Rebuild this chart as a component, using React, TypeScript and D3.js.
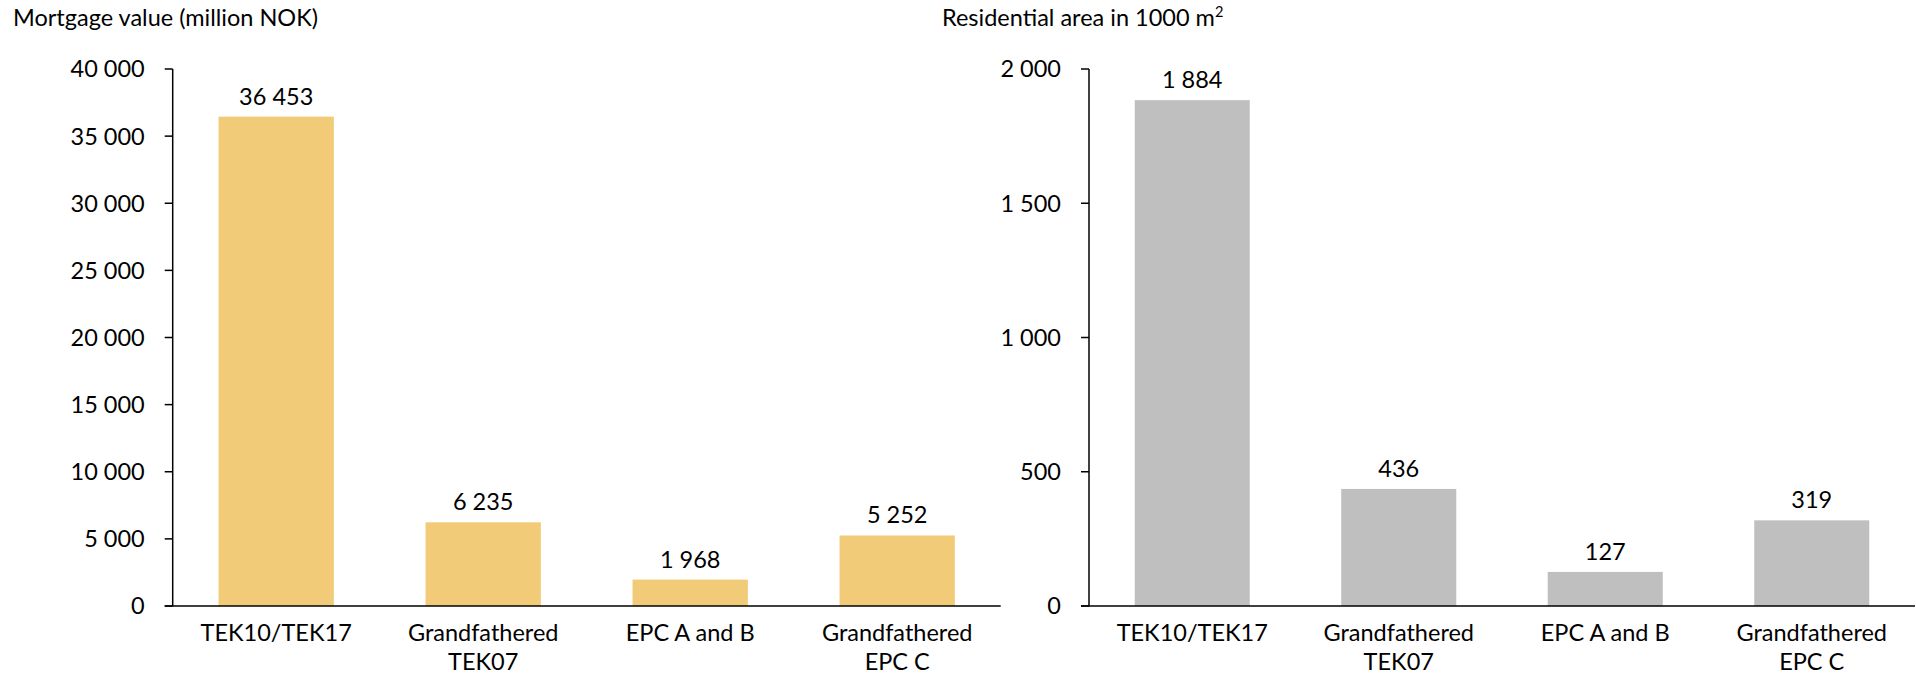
import React from "react";
import * as d3 from "d3";

const categories: string[][] = [
  ["TEK10/TEK17"],
  ["Grandfathered", "TEK07"],
  ["EPC A and B"],
  ["Grandfathered", "EPC C"],
];
const mortgageValues = [36453, 6235, 1968, 5252];
const areaValues = [1884, 436, 127, 319];
const mortgageTicks = [0, 5000, 10000, 15000, 20000, 25000, 30000, 35000, 40000];
const areaTicks = [0, 500, 1000, 1500, 2000];

const W = 1916;
const H = 675;
const FONT = "Lato, 'Open Sans', sans-serif";
const FS = 23.5;

const locale = d3.formatLocale({ decimal: ",", thousands: " ", grouping: [3], currency: ["", ""] });
const fmt = locale.format(",d");

type PanelProps = {
  values: number[];
  ticks: number[];
  max: number;
  x0: number;
  x1: number;
  color: string;
  title: React.ReactNode;
  titleX: number;
};

function Panel({ values, ticks, max, x0, x1, color, title, titleX }: PanelProps) {
  const yTop = 69;
  const yBot = 606;
  const y = d3.scaleLinear().domain([0, max]).range([yBot, yTop]);
  const keys = categories.map((c) => c.join(" "));
  const x = d3.scaleBand<string>().domain(keys).range([x0, x1]).paddingInner(0.443).paddingOuter(0.2215);
  return (
    <g fontFamily={FONT} fontSize={FS} fill="#000">
      <text x={titleX} y={26}>{title}</text>
      {values.map((v, i) => (
        <rect key={"b" + i} x={x(keys[i])} y={y(v)} width={x.bandwidth()} height={yBot - y(v)} fill={color} />
      ))}
      {values.map((v, i) => (
        <text key={"v" + i} x={(x(keys[i]) as number) + x.bandwidth() / 2} y={y(v) - 12} textAnchor="middle">
          {fmt(v)}
        </text>
      ))}
      <line x1={x0} x2={x0} y1={yTop} y2={yBot} stroke="#000" strokeWidth={1.5} />
      <line x1={x0 - 8} x2={x1} y1={yBot} y2={yBot} stroke="#000" strokeWidth={1.5} />
      {ticks.map((t) => (
        <g key={"t" + t}>
          <line x1={x0 - 8} x2={x0} y1={y(t)} y2={y(t)} stroke="#000" strokeWidth={1.5} />
          <text x={x0 - 28} y={y(t)} dy="0.36em" textAnchor="end">{fmt(t)}</text>
        </g>
      ))}
      {categories.map((c, i) => (
        <text key={"c" + i} x={(x(keys[i]) as number) + x.bandwidth() / 2} y={641} textAnchor="middle">
          {c.map((line, j) => (
            <tspan key={j} x={(x(keys[i]) as number) + x.bandwidth() / 2} y={641 + j * 29}>{line}</tspan>
          ))}
        </text>
      ))}
    </g>
  );
}

export default function App() {
  return (
    <svg width={W} height={H} style={{ position: "absolute", left: 0, top: 0, background: "#fff" }}>
      <rect width={W} height={H} fill="#fff" />
      <Panel
        values={mortgageValues}
        ticks={mortgageTicks}
        max={40000}
        x0={172.7}
        x1={1000.7}
        color="#F2CB78"
        title="Mortgage value (million NOK)"
        titleX={13}
      />
      <Panel
        values={areaValues}
        ticks={areaTicks}
        max={2000}
        x0={1089}
        x1={1915}
        color="#BFBFBF"
        title={
          <>
            Residential area in 1000 m
            <tspan fontSize={FS * 0.62} dy={-9}>2</tspan>
          </>
        }
        titleX={942}
      />
    </svg>
  );
}
